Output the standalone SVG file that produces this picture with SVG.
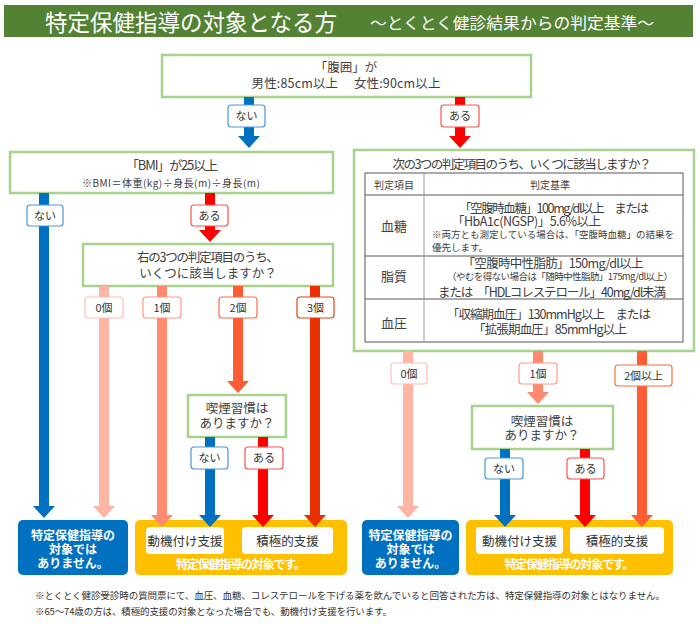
<svg xmlns="http://www.w3.org/2000/svg" width="700" height="624" viewBox="0 0 700 624">
<style>
text{font-family:"Noto Sans CJK JP","Noto Sans",sans-serif;fill:#404040}
.box{fill:#fff;stroke:#A9D18E;stroke-width:2.5}
.c{text-anchor:middle}
.f13{font-size:12.5px}
.f10{font-size:10px}
.lbl{fill:#fff;stroke-width:1.2}
.lt{font-size:11px;text-anchor:middle;fill:#333}
.w{fill:#fff;font-weight:bold;text-anchor:middle;font-size:12px}
.tb{stroke:#595959;stroke-width:1;fill:none}
</style>
<rect x="0" y="0" width="700" height="624" fill="#fff"/>
<g id="header">
<rect x="4" y="5" width="689" height="32" fill="#548235"/>
<text x="45" y="31" style="font-size:23px;fill:#fff" textLength="292" lengthAdjust="spacingAndGlyphs">特定保健指導の対象となる方</text>
<text x="370" y="29" style="font-size:16px;fill:#fff" textLength="284" lengthAdjust="spacingAndGlyphs">～とくとく健診結果からの判定基準～</text>
</g>
<g id="node-waist">
<rect class="box" x="162" y="55" width="369" height="42"/>
<text class="c f13" x="346" y="72">「腹囲」が</text>
<text class="c f13" x="346" y="88" textLength="189">男性:85cm以上　 女性:90cm以上</text>
</g>
<g id="node-bmi">
<rect class="box" x="10" y="152" width="323" height="41"/>
<text class="c" x="172" y="170" style="font-size:13px" textLength="92">「BMI」が25以上</text>
<text class="c f10" x="171" y="187" textLength="178">※BMI＝体重(kg)÷身長(m)÷身長(m)</text>
</g>
<g id="node-count-left">
<rect class="box" x="83" y="244" width="250" height="42"/>
<text class="c f13" x="208" y="262" textLength="142">右の3つの判定項目のうち、</text>
<text class="c f13" x="208" y="278">いくつに該当しますか？</text>
</g>
<g id="node-criteria">
<rect class="box" x="354" y="150" width="340" height="201"/>
<text class="c f13" x="522" y="169" textLength="259">次の3つの判定項目のうち、いくつに該当しますか？</text>
<rect class="tb" x="365" y="173" width="318" height="169"/>
<line class="tb" x1="365" y1="195" x2="683" y2="195"/>
<line class="tb" x1="365" y1="256" x2="683" y2="256"/>
<line class="tb" x1="365" y1="299" x2="683" y2="299"/>
<line x1="424" y1="173" x2="424" y2="342" stroke="#9a9a9a" stroke-width="1"/>
<text class="c f10" x="394" y="188.5">判定項目</text>
<text class="c f10" x="550" y="188.5">判定基準</text>
<text class="c" x="394" y="231" style="font-size:13px">血糖</text>
<text x="459" y="213" style="font-size:12.5px" textLength="190">「空腹時血糖」100mg/dl以上　または</text>
<text x="452" y="226" style="font-size:12.5px" textLength="149">「HbA1c(NGSP)」5.6%以上</text>
<text x="432" y="238" style="font-size:9.5px" textLength="242">※両方とも測定している場合は、「空腹時血糖」の結果を</text>
<text x="432" y="251" style="font-size:9.5px">優先します。</text>
<text class="c" x="394" y="281" style="font-size:13px">脂質</text>
<text class="c" x="553" y="268" style="font-size:12.5px" textLength="181">「空腹時中性脂肪」150mg/dl以上</text>
<text class="c" x="560" y="280" style="font-size:9.5px" textLength="226">（やむを得ない場合は「随時中性脂肪」175mg/dl以上）</text>
<text class="c" x="552" y="296.5" style="font-size:12.5px" textLength="228">または　「HDLコレステロール」40mg/dl未満</text>
<text class="c" x="394" y="328" style="font-size:13px">血圧</text>
<text class="c" x="549" y="318.5" style="font-size:12.5px" textLength="204">「収縮期血圧」130mmHg以上　または</text>
<text class="c" x="550" y="333.5" style="font-size:12.5px" textLength="154">「拡張期血圧」85mmHg以上</text>
</g>
<g id="node-smoke-left">
<rect class="box" x="188" y="395" width="98" height="42"/>
<text class="c f13" x="237" y="413">喫煙習慣は</text>
<text class="c f13" x="237" y="428">ありますか？</text>
</g>
<g id="node-smoke-right">
<rect class="box" x="472" y="406" width="141" height="43"/>
<text class="c f13" x="542" y="425.5">喫煙習慣は</text>
<text class="c f13" x="542" y="440">ありますか？</text>
</g>
<g id="node-not-left">
<rect x="18" y="520" width="110" height="55" rx="5" fill="#0070C0"/>
<text class="w" x="73" y="540">特定保健指導の</text>
<text class="w" x="73" y="554">対象では</text>
<text class="w" x="73" y="568">ありません。</text>
</g>
<g id="node-target-left">
<rect x="135" y="520" width="212" height="55" rx="5" fill="#FFC000"/>
<rect x="146" y="527" width="78" height="27" rx="4" fill="#fff"/>
<rect x="242" y="527" width="91" height="27" rx="4" fill="#fff"/>
<text class="c" x="185" y="546" style="font-size:12.5px;fill:#333">動機付け支援</text>
<text class="c" x="287.5" y="546" style="font-size:12.5px;fill:#333">積極的支援</text>
<text class="w" x="241" y="569" textLength="130">特定保健指導の対象です。</text>
</g>
<g id="node-not-right">
<rect x="362" y="520" width="97" height="55" rx="5" fill="#0070C0"/>
<text class="w" x="410.5" y="540">特定保健指導の</text>
<text class="w" x="410.5" y="554">対象では</text>
<text class="w" x="410.5" y="568">ありません。</text>
</g>
<g id="node-target-right">
<rect x="466" y="520" width="207" height="55" rx="5" fill="#FFC000"/>
<rect x="476" y="527" width="87" height="27" rx="4" fill="#fff"/>
<rect x="570" y="527" width="94" height="27" rx="4" fill="#fff"/>
<text class="c" x="519.5" y="546" style="font-size:12.5px;fill:#333">動機付け支援</text>
<text class="c" x="617" y="546" style="font-size:12.5px;fill:#333">積極的支援</text>
<text class="w" x="569.5" y="569" textLength="130">特定保健指導の対象です。</text>
</g>
<g id="connectors">
<polygon fill="#0070C0" points="244,97 254,97 254,136 260,136 249,148 238,136 244,136"/>
<polygon fill="#FF0000" points="455,97 465,97 465,136 471,136 460,148 449,136 455,136"/>
<polygon fill="#0070C0" points="39,193 49,193 49,506 55,506 44,518 33,506 39,506"/>
<polygon fill="#FF0000" points="205,193 215,193 215,230 221,230 210,242 199,230 205,230"/>
<polygon fill="#FFB4A4" points="99,286 109,286 109,506 115,506 104,518 93,506 99,506"/>
<polygon fill="#FF8A70" points="157,286 167,286 167,515 173,515 162,527 151,515 157,515"/>
<polygon fill="#FF5B35" points="233,286 243,286 243,381 249,381 238,393 227,381 233,381"/>
<polygon fill="#E83000" points="310,286 320,286 320,515 326,515 315,527 304,515 310,515"/>
<polygon fill="#0070C0" points="205,437 215,437 215,515 221,515 210,527 199,515 205,515"/>
<polygon fill="#FF0000" points="258,437 268,437 268,515 274,515 263,527 252,515 258,515"/>
<polygon fill="#FFB4A4" points="403,351 413,351 413,506 419,506 408,518 397,506 403,506"/>
<polygon fill="#FF8A70" points="533,351 543,351 543,392 549,392 538,404 527,392 533,392"/>
<polygon fill="#FF5B35" points="637,351 647,351 647,515 653,515 642,527 631,515 637,515"/>
<polygon fill="#0070C0" points="500,449 510,449 510,515 516,515 505,527 494,515 500,515"/>
<polygon fill="#FF0000" points="580,449 590,449 590,515 596,515 585,527 574,515 580,515"/>
<g id="labels">
<rect class="lbl" x="228" y="105" width="37" height="22" rx="3" stroke="#4A97D8"/><text class="lt" x="246.5" y="120">ない</text>
<rect class="lbl" x="441" y="105" width="38" height="22" rx="3" stroke="#FF5050"/><text class="lt" x="460" y="120">ある</text>
<rect class="lbl" x="27" y="205" width="36" height="21" rx="3" stroke="#4A97D8"/><text class="lt" x="45" y="219.5">ない</text>
<rect class="lbl" x="191" y="205" width="37" height="21" rx="3" stroke="#FF5050"/><text class="lt" x="209.5" y="219.5">ある</text>
<rect class="lbl" x="85" y="297" width="38" height="21" rx="3" stroke="#FFC0B4"/><text class="lt" x="104" y="311.5">0個</text>
<rect class="lbl" x="143" y="297" width="38" height="21" rx="3" stroke="#FF9A84"/><text class="lt" x="162" y="311.5">1個</text>
<rect class="lbl" x="219" y="297" width="38" height="21" rx="3" stroke="#FF6B48"/><text class="lt" x="238" y="311.5">2個</text>
<rect class="lbl" x="297" y="297" width="37" height="21" rx="3" stroke="#EB4010"/><text class="lt" x="315.5" y="311.5">3個</text>
<rect class="lbl" x="191" y="447" width="37" height="22" rx="3" stroke="#4A97D8"/><text class="lt" x="209.5" y="462">ない</text>
<rect class="lbl" x="245" y="447" width="38" height="22" rx="3" stroke="#FF5050"/><text class="lt" x="264" y="462">ある</text>
<rect class="lbl" x="391" y="363" width="36" height="21" rx="3" stroke="#FFC0B4"/><text class="lt" x="409" y="377.5">0個</text>
<rect class="lbl" x="519" y="363" width="38" height="21" rx="3" stroke="#FF9A84"/><text class="lt" x="538" y="377.5">1個</text>
<rect class="lbl" x="615" y="365" width="57" height="21" rx="3" stroke="#FF6B48"/><text class="lt" x="643.5" y="379.5">2個以上</text>
<rect class="lbl" x="485" y="458" width="38" height="21" rx="3" stroke="#4A97D8"/><text class="lt" x="504" y="472.5">ない</text>
<rect class="lbl" x="567" y="458" width="37" height="21" rx="3" stroke="#FF5050"/><text class="lt" x="585.5" y="472.5">ある</text>
</g>
</g>
<g id="footnotes">
<text x="35" y="599" style="font-size:9.5px;fill:#333" textLength="630">※とくとく健診受診時の質問票にて、血圧、血糖、コレステロールを下げる薬を飲んでいると回答された方は、特定保健指導の対象とはなりません。</text>
<text x="35" y="615" style="font-size:9.5px;fill:#333" textLength="357">※65～74歳の方は、積極的支援の対象となった場合でも、動機付け支援を行います。</text>
</g>
</svg>
